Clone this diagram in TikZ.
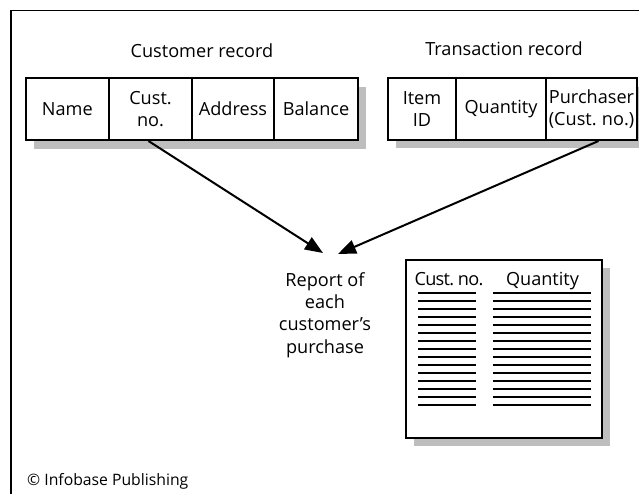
\documentclass[tikz,border=0pt]{standalone}
\usepackage{fontspec}
\setmainfont{Open Sans}
\usetikzlibrary{arrows.meta,calc}
\definecolor{shadowgray}{RGB}{190,190,190}
\newcommand\mainsz{\fontsize{18.2}{22.5}\selectfont}
\newcommand\copysz{\fontsize{15.8}{18}\selectfont}
\begin{document}
\begin{tikzpicture}[x=1bp,y=-1bp,
  cell/.style={draw, line width=2bp, minimum height=62bp, inner sep=0pt, align=center, font=\mainsz},
  title/.style={font=\mainsz, anchor=base, inner sep=0pt},
  conn/.style={line width=2bp, -{Triangle[length=18bp,width=14bp]}},
  rule/.style={line width=2.2bp},
  shadowbox/.style={fill=shadowgray}
]
\useasboundingbox (0,0) rectangle (639,494);
\clip (0,0) rectangle (639,494);
% frame
\draw[line width=1.5bp] (11,494) -- (11,10.5) -- (639,10.5);
% titles
\node[title] (t1) at (202,58) {Customer record};
\node[title] (t2) at (504,56) {Transaction record};
% shadows
\fill[shadowgray] (33.7,87) rectangle (366,149);
\fill[shadowgray] (396,87) rectangle (645,148);
\fill[shadowgray] (414,268) rectangle (610,446);
% customer record
\node[cell, minimum width=83.3bp, fill=white] (name) at (67.35,109) {Name};
\node[cell, minimum width=83bp, fill=white] (cust) at (150.5,109) {Cust.\\no.};
\node[cell, minimum width=82bp, fill=white] (addr) at (233,109) {Address};
\node[cell, minimum width=84bp, fill=white] (bal) at (316,109) {Balance};
% transaction record
\node[cell, minimum width=68bp, fill=white] (item) at (422,109) {Item\\ID};
\node[cell, minimum width=90bp, fill=white] (qty) at (501,109) {Quantity};
\node[cell, minimum width=91bp, fill=white] (purch) at (591.5,109) {Purchaser\\(Cust.\kern-1pt{} no.)};
% report text
\node[font=\mainsz, align=center, inner sep=0pt] (rep) at (325,315) {Report of\\each\\customer’s\\purchase};
\coordinate (e1) at (323,253);
\coordinate (e2) at (338,254);
\draw[conn] ($(cust.south)+(-2,0)$) -- (e1);
\draw[conn] ($(purch.south)+(7,0)$) -- (e2);
% report box
\node[draw, line width=2bp, fill=white, minimum width=196bp, minimum height=178bp, inner sep=0pt] (box) at (504,349) {};
\node[title] (h1) at (449,285) {\addfontfeatures{LetterSpace=-4}Cust.\kern-1.5pt{} no.};
\node[title] (h2) at (542.5,285) {Quantity};
\foreach \i in {0,...,14}{
  \draw[rule] (418,292.7+8*\i) -- (476,292.7+8*\i);
  \draw[rule] (493,292.7+8*\i) -- (591,292.7+8*\i);
}
% copyright
\node[font=\copysz, anchor=base west, inner sep=0pt] (copy) at (27,485.7) {© Infobase Publishing};
\end{tikzpicture}
\end{document}
